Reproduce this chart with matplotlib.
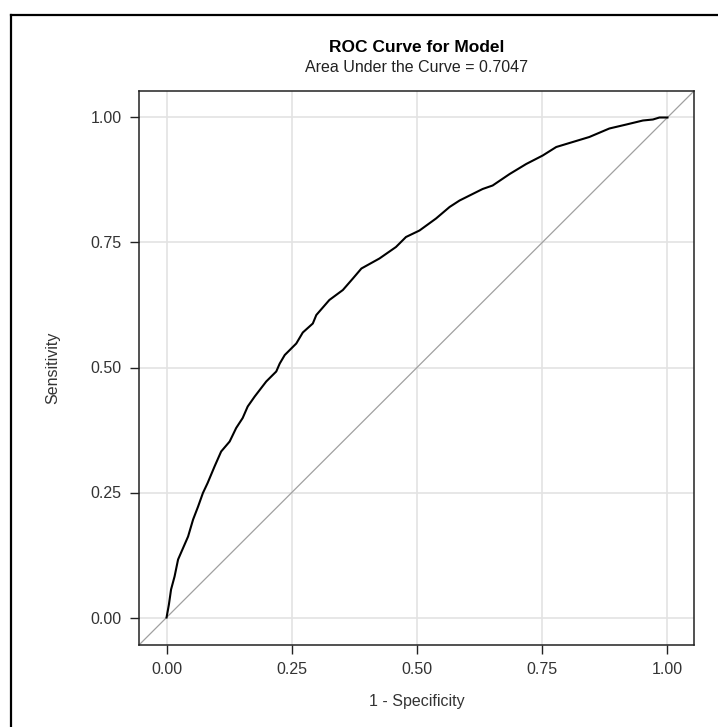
import numpy as np
import matplotlib
matplotlib.use("Agg")
import matplotlib.pyplot as plt
from matplotlib.lines import Line2D

plt.rcParams['font.family'] = ['Liberation Sans', 'DejaVu Sans']

# ROC curve points (1 - specificity, sensitivity)
fpr = [0.0, 0.0047, 0.009, 0.016, 0.023, 0.033, 0.043, 0.053, 0.063, 0.0726,
       0.082, 0.0958, 0.109, 0.126, 0.139, 0.152, 0.162, 0.176, 0.199, 0.219,
       0.226, 0.236, 0.259, 0.272, 0.292, 0.299, 0.325, 0.352, 0.372, 0.389,
       0.425, 0.458, 0.478, 0.505, 0.538, 0.565, 0.585, 0.631, 0.651, 0.685,
       0.718, 0.751, 0.778, 0.811, 0.844, 0.884, 0.918, 0.951, 0.971, 0.984, 1.0]
tpr = [0.0, 0.026, 0.056, 0.082, 0.116, 0.139, 0.162, 0.196, 0.222, 0.249,
       0.269, 0.302, 0.332, 0.352, 0.379, 0.399, 0.422, 0.442, 0.472, 0.492,
       0.508, 0.525, 0.548, 0.570, 0.588, 0.605, 0.635, 0.655, 0.678, 0.698,
       0.718, 0.741, 0.761, 0.774, 0.798, 0.821, 0.834, 0.857, 0.864, 0.887,
       0.907, 0.924, 0.941, 0.951, 0.961, 0.978, 0.986, 0.994, 0.996, 1.0, 1.0]
ticks = [0.0, 0.25, 0.50, 0.75, 1.00]
tick_labels = ['0.00', '0.25', '0.50', '0.75', '1.00']
auc = 0.7047

fig = plt.figure(figsize=(7.18, 7.27), dpi=100)
ax = fig.add_axes([139 / 718, 1 - 645 / 727, (694 - 139) / 718, (645 - 91) / 727])

lim = (-0.055, 1.053)
ax.plot(lim, lim, color='#a0a0a0', lw=0.9, zorder=2)
ax.plot(fpr, tpr, color='black', lw=1.5, zorder=3)

ax.set_xlim(lim)
ax.set_ylim(lim)
ax.set_xticks(ticks)
ax.set_xticklabels(tick_labels)
ax.set_yticks(ticks)
ax.set_yticklabels(tick_labels)
ax.grid(True, color='#e3e3e3', lw=1.2, zorder=1)
ax.set_axisbelow(True)
ax.tick_params(direction='out', length=6.5, width=1.0, color='#222222',
               labelsize=11.5, labelcolor='#333333', pad=6)
for s in ax.spines.values():
    s.set_linewidth(1.1)
    s.set_color('#222222')

ax.set_xlabel('1 - Specificity', fontsize=11.5, color='#333333', labelpad=12)
ax.set_ylabel('Sensitivity', fontsize=11.5, color='#333333', labelpad=22)

fig.text(416.5 / 718, 1 - 47 / 727, 'ROC Curve for Model', ha='center', va='center',
         fontsize=12.5, fontweight='bold')
fig.text(416.5 / 718, 1 - 67 / 727, 'Area Under the Curve = {:.4f}'.format(auc),
         ha='center', va='center', fontsize=11.5, color='#222222')

# outer frame (only left and top edges visible)
fig.add_artist(Line2D([11 / 718, 11 / 718], [0, 1 - 15 / 727], transform=fig.transFigure,
                      color='black', lw=1.6))
fig.add_artist(Line2D([11 / 718, 1], [1 - 15 / 727, 1 - 15 / 727], transform=fig.transFigure,
                      color='black', lw=1.6))

fig.savefig('out.png', dpi=100)
